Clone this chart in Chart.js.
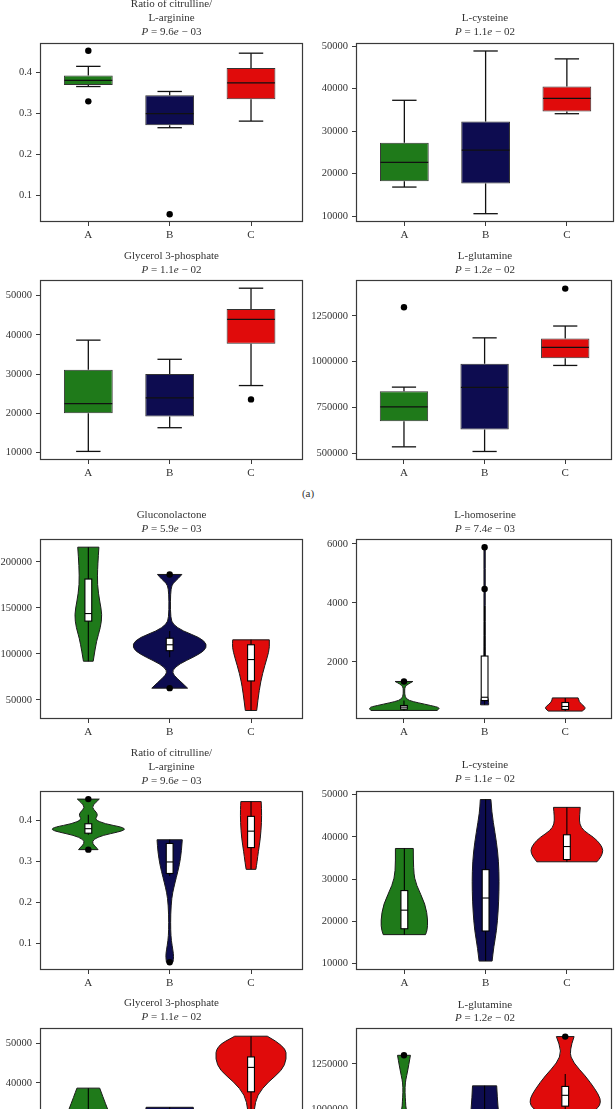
<!DOCTYPE html>
<html>
<head>
<meta charset="utf-8">
<script src="https://cdn.jsdelivr.net/npm/chart.js@4.4.1/dist/chart.umd.min.js"></script>
<style>
  html, body { margin: 0; padding: 0; background: #fff; }
  body { width: 616px; height: 1109px; position: relative; overflow: hidden;
         font-family: 'Liberation Serif', 'DejaVu Serif', serif; color: #333; }
  canvas { position: absolute; }
  .title { position: absolute; text-align: center; font-size: 11px; line-height: 13.7px; white-space: nowrap; }
  .tag { position: absolute; left: 0; width: 616px; text-align: center; font-size: 11px; line-height: 13.7px; }
</style>
</head>
<body>
<div class="tag" style="top:487px">(a)</div>
<script>
// groups on the x axis
const groups = ['A', 'B', 'C'];

// box stats per group: [low whisker, q1, median, q3, high whisker]
const ratioStats = [[0.365, 0.369, 0.380, 0.392, 0.414], [0.265, 0.271, 0.299, 0.344, 0.353], [0.281, 0.334, 0.374, 0.410, 0.446]];
const ratioOutliers = [[0.452, 0.329], [0.055], []];
const ratioTicks = [0.1, 0.2, 0.3, 0.4];

const cysteineStats = [[16821, 18213, 22622, 27262, 37239], [10557, 17680, 25499, 32227, 48840], [34083, 34617, 37703, 40487, 46984]];
const cysteineOutliers = [[], [], []];
const cysteineTicks = [10000, 20000, 30000, 40000, 50000];

const glycerolStats = [[10327, 20063, 22478, 31132, 38679], [16365, 19208, 23987, 30025, 33799], [27107, 37748, 43962, 46629, 51912]];
const glycerolOutliers = [[], [], [23585]];
const glycerolTicks = [10000, 20000, 30000, 40000, 50000];

const glutamineStats = [[535720, 675330, 753760, 838077, 861170], [510470, 630240, 859560, 988450, 1129700], [979330, 1019070, 1078140, 1126480, 1194150]];
const glutamineOutliers = [[1296190], [], [1398220]];
const glutamineTicks = [500000, 750000, 1000000, 1250000];

const gluconoStats = [[92140, 135720, 143930, 181430, 216070], [96430, 103570, 110000, 117140, 125000], [38570, 70710, 93930, 110000, 115360]];
const gluconoOutliers = [[], [186430, 62860], []];
const gluconoTicks = [50000, 100000, 150000, 200000];

const homoStats = [[359, 404, 471, 527, 694], [549, 694, 806, 2202, 3900], [337, 393, 493, 627, 784]];
const homoOutliers = [[1340], [5888, 4470], []];
const homoTicks = [2000, 4000, 6000];

// violin outlines: [value, half width in group units], top to bottom
const gluconoShapes = [
  [[216070, 0.13], [196430, 0.115], [175000, 0.11], [157140, 0.14], [142860, 0.17], [128570, 0.15], [114290, 0.10], [92140, 0.06]],
  [[186430, 0.15], [181430, 0.10], [176790, 0.04], [171430, 0.016], [157140, 0.008], [139290, 0.012], [132140, 0.04], [125000, 0.16],
   [117860, 0.37], [110710, 0.46], [103570, 0.43], [96430, 0.29], [89290, 0.12], [82140, 0.03], [76790, 0.05], [69640, 0.14], [62860, 0.22]],
  [[115360, 0.225], [107140, 0.23], [96430, 0.2], [78570, 0.14], [60710, 0.10], [38570, 0.07]]
];
const homoShapes = [
  [[1340, 0.11], [1253, 0.05], [1163, 0.012], [1029, 0.008], [806, 0.012], [694, 0.06], [616, 0.18], [527, 0.33], [449, 0.45], [359, 0.41]],
  [[5888, 0.008], [4380, 0.008], [2370, 0.008], [1476, 0.012], [918, 0.025], [694, 0.05], [549, 0.05]],
  [[784, 0.16], [638, 0.17], [493, 0.24], [415, 0.25], [337, 0.21]]
];
const ratioShapes = [
  [[0.452, 0.135], [0.444, 0.09], [0.432, 0.04], [0.420, 0.10], [0.412, 0.115], [0.402, 0.08], [0.392, 0.20], [0.384, 0.41],
   [0.378, 0.46], [0.372, 0.37], [0.364, 0.18], [0.354, 0.06], [0.344, 0.05], [0.336, 0.09], [0.329, 0.12]],
  [[0.353, 0.155], [0.324, 0.145], [0.292, 0.12], [0.26, 0.08], [0.236, 0.05], [0.212, 0.025], [0.172, 0.012], [0.132, 0.012],
   [0.108, 0.02], [0.084, 0.04], [0.068, 0.05], [0.055, 0.04]],
  [[0.446, 0.125], [0.428, 0.13], [0.396, 0.13], [0.356, 0.115], [0.324, 0.09], [0.30, 0.075], [0.281, 0.06]]
];
const cysteineShapes = [
  [[37239, 0.11], [31750, 0.11], [28640, 0.145], [23980, 0.26], [20100, 0.29], [17770, 0.28], [16821, 0.26]],
  [[48840, 0.065], [45730, 0.075], [41070, 0.115], [36410, 0.15], [31750, 0.165], [27090, 0.165], [22430, 0.155], [17770, 0.135], [13880, 0.10], [10557, 0.08]],
  [[46984, 0.165], [44950, 0.155], [43010, 0.155], [41460, 0.205], [39900, 0.33], [38350, 0.41], [36800, 0.45], [35240, 0.42], [34083, 0.37]]
];
const glycerolShapes = [
  [[38679, 0.14], [36440, 0.18], [33170, 0.24], [30000, 0.30], [26000, 0.36], [22000, 0.38], [18000, 0.32], [14000, 0.2], [10327, 0.1]],
  [[33799, 0.29], [30000, 0.31], [26000, 0.33], [22000, 0.34], [19000, 0.3], [16365, 0.25]],
  [[51912, 0.2], [49417, 0.42], [46083, 0.44], [43167, 0.38], [40250, 0.21], [36917, 0.075], [33167, 0.037], [29000, 0.03], [26000, 0.04], [23585, 0.03]]
];
const glutamineShapes = [
  [[1296190, 0.08], [1237500, 0.057], [1183900, 0.033], [1148200, 0.016], [1094600, 0.012], [1041100, 0.02], [1000000, 0.025],
   [930000, 0.08], [850000, 0.25], [760000, 0.38], [680000, 0.3], [600000, 0.18], [535720, 0.1]],
  [[1129700, 0.15], [1000000, 0.165], [900000, 0.2], [800000, 0.24], [700000, 0.25], [600000, 0.2], [510470, 0.15]],
  [[1398220, 0.11], [1317900, 0.045], [1255400, 0.10], [1183900, 0.25], [1112500, 0.37], [1058900, 0.44], [1023200, 0.43], [1000000, 0.38], [979330, 0.3]]
];

const fills = ['#1f7a1a', '#0d0c50', '#e00b0b'];
const ink = '#3a3a3a';

Chart.defaults.font.family = "'Liberation Serif', 'DejaVu Serif', serif";
Chart.defaults.font.size = 10.5;
Chart.defaults.color = '#333';

function smoothSide(ctx, pts, first) {
  if (first) ctx.moveTo(pts[0][0], pts[0][1]); else ctx.lineTo(pts[0][0], pts[0][1]);
  for (let k = 1; k < pts.length - 1; k++) {
    const mx = (pts[k][0] + pts[k + 1][0]) / 2, my = (pts[k][1] + pts[k + 1][1]) / 2;
    ctx.quadraticCurveTo(pts[k][0], pts[k][1], mx, my);
  }
  const last = pts[pts.length - 1];
  ctx.lineTo(last[0], last[1]);
}

function vline(ctx, x, y1, y2) {
  ctx.beginPath();
  ctx.moveTo(x, y1);
  ctx.lineTo(x, y2);
  ctx.stroke();
}
function hline(ctx, x1, x2, y) {
  ctx.beginPath();
  ctx.moveTo(x1, y);
  ctx.lineTo(x2, y);
  ctx.stroke();
}

function panel(cfg) {
  const left = cfg.col === 0 ? 0 : 308;
  const yw = cfg.col === 0 ? 40 : 48;
  const rp = cfg.col === 0 ? 5 : 2;
  const xr = cfg.col === 0 ? [-0.594, 2.639] : [-0.595, 2.58];
  const padTop = 8, xh = 22;
  const W = 308, H = padTop + (cfg.bottom - cfg.top) + xh;

  const canvas = document.createElement('canvas');
  canvas.width = W; canvas.height = H;
  canvas.style.left = left + 'px';
  canvas.style.top = (cfg.top - padTop) + 'px';
  canvas.style.width = W + 'px';
  canvas.style.height = H + 'px';
  document.body.appendChild(canvas);

  const t = document.createElement('div');
  t.className = 'title';
  t.style.left = (left + yw) + 'px';
  t.style.width = (W - yw - rp) + 'px';
  t.style.top = (cfg.titleY - 6.85) + 'px';
  t.innerHTML = cfg.title.concat(['<i>P</i> = ' + cfg.p[0] + '<i>e</i> \u2212 ' + cfg.p[1]]).join('<br>');
  document.body.appendChild(t);

  const datasets = [];
  if (cfg.kind === 'box') {
    datasets.push({
      type: 'bar',
      data: cfg.stats.map((s, i) => ({ x: i, y: [s[1], s[3]] })),
      backgroundColor: fills,
      borderColor: '#333',
      borderWidth: 1,
      borderSkipped: false,
      barPercentage: 0.6,
      categoryPercentage: 1
    });
  }
  datasets.push({
    type: 'scatter',
    data: cfg.outliers.flatMap((arr, i) => arr.map(v => ({ x: i, y: v }))),
    pointRadius: 3.2,
    pointBackgroundColor: '#000',
    pointBorderWidth: 0
  });

  const marks = {
    id: 'marks',
    beforeDatasetsDraw(chart) {
      if (cfg.kind !== 'violin') return;
      const ctx = chart.ctx, xs = chart.scales.x, ys = chart.scales.y;
      ctx.save();
      cfg.shapes.forEach((shape, i) => {
        const right = shape.map(([v, w]) => [xs.getPixelForValue(i + w), ys.getPixelForValue(v)]);
        const lft = shape.map(([v, w]) => [xs.getPixelForValue(i - w), ys.getPixelForValue(v)]).reverse();
        ctx.beginPath();
        smoothSide(ctx, right, true);
        smoothSide(ctx, lft, false);
        ctx.closePath();
        ctx.fillStyle = fills[i];
        ctx.fill();
        ctx.strokeStyle = '#1a1a1a';
        ctx.lineWidth = 1;
        ctx.stroke();
      });
      cfg.stats.forEach((s, i) => {
        const xc = xs.getPixelForValue(i);
        const x1 = xs.getPixelForValue(i - 0.042), x2 = xs.getPixelForValue(i + 0.042);
        const yLo = ys.getPixelForValue(s[0]), yQ1 = ys.getPixelForValue(s[1]);
        const yMed = ys.getPixelForValue(s[2]), yQ3 = ys.getPixelForValue(s[3]);
        const yHi = ys.getPixelForValue(s[4]);
        ctx.strokeStyle = '#000';
        ctx.lineWidth = 1.1;
        vline(ctx, xc, yLo, yHi);
        ctx.fillStyle = '#fff';
        ctx.fillRect(x1, yQ3, x2 - x1, yQ1 - yQ3);
        ctx.strokeRect(x1, yQ3, x2 - x1, yQ1 - yQ3);
        hline(ctx, x1, x2, yMed);
      });
      ctx.restore();
    },
    afterDatasetsDraw(chart) {
      const ctx = chart.ctx, xs = chart.scales.x, ys = chart.scales.y, a = chart.chartArea;
      ctx.save();
      if (cfg.kind === 'box') {
        ctx.strokeStyle = '#111';
        ctx.lineWidth = 1.3;
        cfg.stats.forEach((s, i) => {
          const xc = xs.getPixelForValue(i);
          const b1 = xs.getPixelForValue(i - 0.3), b2 = xs.getPixelForValue(i + 0.3);
          const c1 = xs.getPixelForValue(i - 0.15), c2 = xs.getPixelForValue(i + 0.15);
          const yLo = ys.getPixelForValue(s[0]), yQ1 = ys.getPixelForValue(s[1]);
          const yMed = ys.getPixelForValue(s[2]), yQ3 = ys.getPixelForValue(s[3]);
          const yHi = ys.getPixelForValue(s[4]);
          vline(ctx, xc, yQ1, yLo);
          vline(ctx, xc, yQ3, yHi);
          hline(ctx, c1, c2, yLo);
          hline(ctx, c1, c2, yHi);
          hline(ctx, b1 + 0.5, b2 - 0.5, yMed);
        });
      }
      ctx.strokeStyle = ink;
      ctx.lineWidth = 1.2;
      ctx.strokeRect(Math.round(a.left) + 0.5, Math.round(a.top) + 0.5,
        Math.round(a.right - a.left) - 1, Math.round(a.bottom - a.top) - 1);
      ctx.restore();
    }
  };

  new Chart(canvas, {
    type: 'scatter',
    data: { datasets },
    options: {
      responsive: false,
      animation: false,
      devicePixelRatio: 1,
      events: [],
      layout: { padding: { left: 0, right: rp, top: padTop, bottom: 0 } },
      plugins: { legend: { display: false }, tooltip: { enabled: false }, title: { display: false } },
      scales: {
        x: {
          type: 'linear',
          min: xr[0],
          max: xr[1],
          offset: false,
          afterBuildTicks: ax => { ax.ticks = groups.map((g, i) => ({ value: i })); },
          afterFit: ax => { ax.height = xh; },
          ticks: { callback: v => groups[v], font: { size: 11 }, padding: 3, maxRotation: 0, autoSkip: false },
          grid: { drawOnChartArea: false, tickLength: 4, color: ink, offset: false },
          border: { display: false }
        },
        y: {
          type: 'linear',
          min: cfg.range[0],
          max: cfg.range[1],
          afterBuildTicks: ax => { ax.ticks = cfg.ticks.map(v => ({ value: v })); },
          afterFit: ax => { ax.width = yw; },
          ticks: { callback: v => String(v), padding: 4, autoSkip: false },
          grid: { drawOnChartArea: false, tickLength: 4, color: ink },
          border: { display: false }
        }
      }
    },
    plugins: [marks]
  });
}

// (a) box plots
panel({ col: 0, top: 41, bottom: 222, kind: 'box', range: [0.036, 0.470], ticks: ratioTicks,
  stats: ratioStats, outliers: ratioOutliers, title: ['Ratio of citrulline/', 'L-arginine'], p: ['9.6', '03'], titleY: 4 });
panel({ col: 1, top: 41, bottom: 222, kind: 'box', range: [8600, 50650], ticks: cysteineTicks,
  stats: cysteineStats, outliers: cysteineOutliers, title: ['L-cysteine'], p: ['1.1', '02'], titleY: 18.3 });
panel({ col: 0, top: 278, bottom: 460, kind: 'box', range: [8138, 53925], ticks: glycerolTicks,
  stats: glycerolStats, outliers: glycerolOutliers, title: ['Glycerol 3-phosphate'], p: ['1.1', '02'], titleY: 255.8 });
panel({ col: 1, top: 278, bottom: 460, kind: 'box', range: [464000, 1443340], ticks: glutamineTicks,
  stats: glutamineStats, outliers: glutamineOutliers, title: ['L-glutamine'], p: ['1.2', '02'], titleY: 255.8 });

// violin plots
panel({ col: 0, top: 537, bottom: 719, kind: 'violin', range: [29320, 224640], ticks: gluconoTicks,
  stats: gluconoStats, outliers: gluconoOutliers, shapes: gluconoShapes, title: ['Gluconolactone'], p: ['5.9', '03'], titleY: 514.8 });
panel({ col: 1, top: 537, bottom: 719, kind: 'violin', range: [69, 6156], ticks: homoTicks,
  stats: homoStats, outliers: homoOutliers, shapes: homoShapes, title: ['L-homoserine'], p: ['7.4', '03'], titleY: 514.8 });
panel({ col: 0, top: 789, bottom: 970, kind: 'violin', range: [0.036, 0.471], ticks: ratioTicks,
  stats: ratioStats, outliers: ratioOutliers, shapes: ratioShapes, title: ['Ratio of citrulline/', 'L-arginine'], p: ['9.6', '03'], titleY: 753.3 });
panel({ col: 1, top: 789, bottom: 970, kind: 'violin', range: [8440, 50790], ticks: cysteineTicks,
  stats: cysteineStats, outliers: cysteineOutliers, shapes: cysteineShapes, title: ['L-cysteine'], p: ['1.1', '02'], titleY: 764.8 });
panel({ col: 0, top: 1026, bottom: 1208, kind: 'violin', range: [8138, 53925], ticks: glycerolTicks,
  stats: glycerolStats, outliers: glycerolOutliers, shapes: glycerolShapes, title: ['Glycerol 3-phosphate'], p: ['1.1', '02'], titleY: 1003 });
panel({ col: 1, top: 1026, bottom: 1208, kind: 'violin', range: [464000, 1443340], ticks: glutamineTicks,
  stats: glutamineStats, outliers: glutamineOutliers, shapes: glutamineShapes, title: ['L-glutamine'], p: ['1.2', '02'], titleY: 1004.5 });
</script>
</body>
</html>
